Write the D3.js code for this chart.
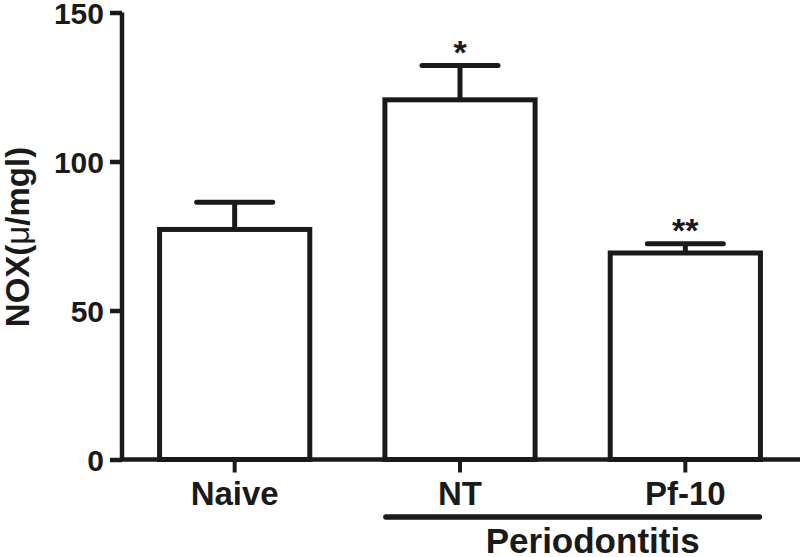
<!DOCTYPE html>
<html><head><meta charset="utf-8">
<script src="https://cdn.jsdelivr.net/npm/d3@7"></script>
<style>body{margin:0;background:#fff}svg{display:block}</style>
</head><body>
<script>
const categories = ["Naive", "NT", "Pf-10"];
const means = [77.2, 120.7, 69.3];
const errors = [9.1, 11.5, 3.1];
const stars = ["", "*", "**"];
const yTicks = [0, 50, 100, 150];
const groupLabel = "Periodontitis";
const groupMembers = ["NT", "Pf-10"];

const W = 800, H = 557;
const svg = d3.select("body").append("svg").attr("width", W).attr("height", H);
const font = "'Liberation Sans', Arial, sans-serif";
const ink = "#1a1a1a";

const x = d3.scaleBand().domain(categories).range([122, 798]).paddingInner(1/3).paddingOuter(1/6);
const y = d3.scaleLinear().domain([0, 150]).range([459.5, 12.5]);

// bars
svg.selectAll("rect.bar").data(categories).enter().append("rect")
  .attr("x", d => x(d)).attr("width", x.bandwidth())
  .attr("y", (d,i) => y(means[i])).attr("height", (d,i) => y(0) - y(means[i]))
  .attr("fill", "#fff").attr("stroke", ink).attr("stroke-width", 5);

// error bars
const cx = d => x(d) + x.bandwidth()/2;
svg.selectAll("line.err").data(categories).enter().append("line")
  .attr("x1", cx).attr("x2", cx)
  .attr("y1", (d,i) => y(means[i])).attr("y2", (d,i) => y(means[i] + errors[i]))
  .attr("stroke", ink).attr("stroke-width", 5);
svg.selectAll("line.cap").data(categories).enter().append("line")
  .attr("x1", d => cx(d) - 38).attr("x2", d => cx(d) + 38)
  .attr("y1", (d,i) => y(means[i] + errors[i])).attr("y2", (d,i) => y(means[i] + errors[i]))
  .attr("stroke", ink).attr("stroke-width", 5).attr("stroke-linecap", "round");

// stars
svg.selectAll("text.star").data(categories).enter().append("text")
  .attr("x", cx).attr("y", (d,i) => y(means[i] + errors[i]) - 2)
  .attr("text-anchor", "middle").attr("font-family", font).attr("font-weight", "bold")
  .attr("font-size", 34).attr("fill", ink)
  .text((d,i) => stars[i]);

// y axis
const yAxis = svg.append("g").attr("transform", "translate(122,0)")
  .call(d3.axisLeft(y).tickValues(yTicks).tickSize(12).tickPadding(6).tickFormat(d3.format("d")));
yAxis.select(".domain").attr("stroke", ink).attr("stroke-width", 4.5).attr("d", `M0,${y(150)}V${y(0)}`);
yAxis.selectAll(".tick line").attr("stroke", ink).attr("stroke-width", 4.5);
yAxis.selectAll(".tick text").attr("font-family", font).attr("font-weight", "bold")
  .attr("font-size", 30).attr("fill", ink).attr("dy", "0.38em");

// x axis
const xAxis = svg.append("g").attr("transform", `translate(0,${y(0)})`)
  .call(d3.axisBottom(x).tickSize(13).tickPadding(9).tickSizeOuter(0));
xAxis.select(".domain").attr("stroke", ink).attr("stroke-width", 4.5).attr("d", "M120,0H800");
xAxis.selectAll(".tick line").attr("stroke", ink).attr("stroke-width", 4);
xAxis.selectAll(".tick text").attr("font-family", font).attr("font-weight", "bold")
  .attr("font-size", 33).attr("fill", ink).attr("dy", "0.71em");

// group bracket
const gx1 = x(groupMembers[0]) + 1, gx2 = x(groupMembers[groupMembers.length-1]) + x.bandwidth() - 1;
svg.append("line").attr("x1", gx1).attr("x2", gx2).attr("y1", 517).attr("y2", 517)
  .attr("stroke", ink).attr("stroke-width", 5.5).attr("stroke-linecap", "round");
svg.append("text").attr("x", (gx1 + gx2)/2 + 20).attr("y", 553)
  .attr("text-anchor", "middle").attr("font-family", font).attr("font-weight", "bold")
  .attr("font-size", 35).attr("fill", ink).text(groupLabel);

// y label
const yl = svg.append("text").attr("transform", "translate(29,237) rotate(-90)")
  .attr("text-anchor", "middle").attr("font-family", font).attr("font-weight", "bold")
  .attr("font-size", 33).attr("fill", ink);
yl.append("tspan").text("NOX(");
yl.append("tspan").attr("font-weight", "normal").text("μ");
yl.append("tspan").text("/mgl)");
</script>
</body></html>
